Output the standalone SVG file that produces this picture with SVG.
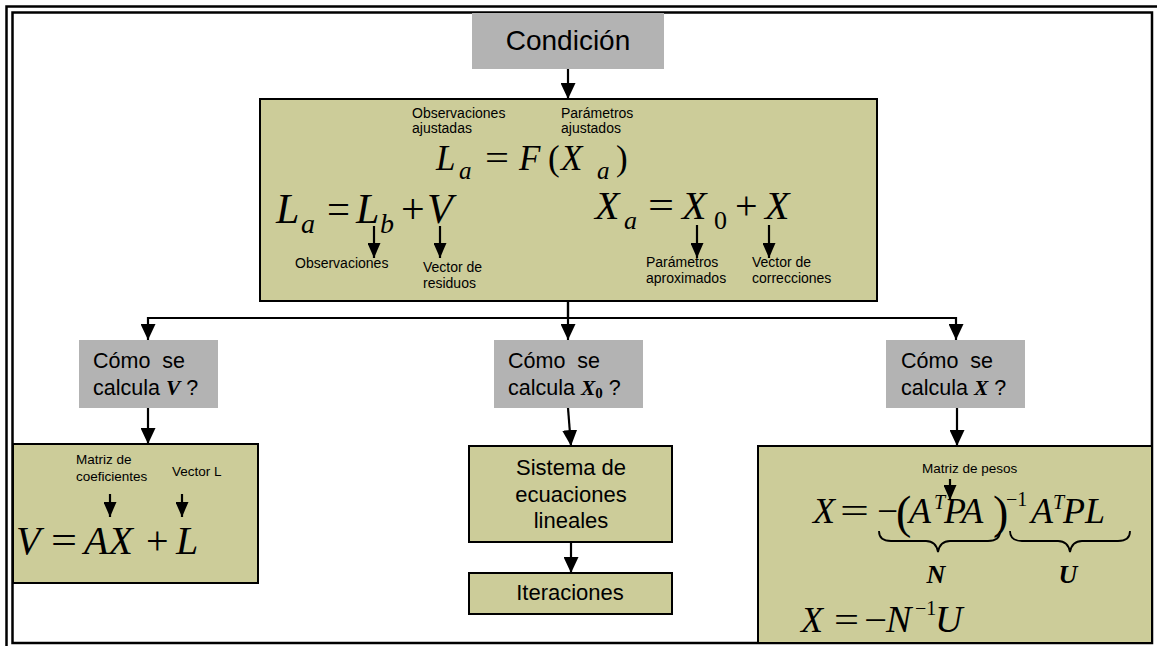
<svg xmlns="http://www.w3.org/2000/svg" width="1157" height="646" viewBox="0 0 1157 646">
<defs>
<marker id="ah" viewBox="0 0 16 15" refX="16" refY="7.5" markerWidth="16" markerHeight="15" markerUnits="userSpaceOnUse" orient="auto">
<path d="M0,0 L16,7.5 L0,15 z" fill="#000"/>
</marker>
<marker id="ahs" viewBox="0 0 15 13" refX="15" refY="6.5" markerWidth="15" markerHeight="13" markerUnits="userSpaceOnUse" orient="auto">
<path d="M0,0 L15,6.5 L0,13 z" fill="#000"/>
</marker>
</defs>
<style>
.gray{fill:#b3b3b3;stroke:none}
.green{fill:#cccc99;stroke:#000;stroke-width:2}
.frame{fill:none;stroke:#000;stroke-width:2.5}
.conn{fill:none;stroke:#000;stroke-width:2.2;marker-end:url(#ah)}
.sarr{fill:none;stroke:#000;stroke-width:2.2;marker-end:url(#ahs)}
.lbl{font-family:"Liberation Sans",Arial,sans-serif;fill:#000}
.m{font-family:"Liberation Serif","Times New Roman",serif;fill:#000}
.mi{font-family:"Liberation Serif","Times New Roman",serif;font-style:italic;fill:#000}
.brace{fill:none;stroke:#000;stroke-width:1.8}
</style>
<rect width="1157" height="646" fill="#fff"/>
<g id="frame">
<rect class="frame" x="6.5" y="6.5" width="1170" height="670"/>
<rect class="frame" x="12.5" y="12.5" width="1139.5" height="630.5"/>
</g>
<g id="connectors">
<path class="conn" d="M568,69 V99"/>
<path class="conn" d="M568,301 V318 H148 V340"/>
<path class="conn" d="M568,301 V340"/>
<path class="conn" d="M568,318 H956 V340"/>
<path class="conn" d="M148,408 V444"/>
<path class="conn" d="M568,408 L571,446"/>
<path class="conn" d="M957,408 V446"/>
<path class="conn" d="M571,542 V573"/>
</g>
<g id="condicion">
<rect class="gray" x="472" y="13" width="192" height="56"/>
<text class="lbl" x="568" y="50" font-size="28" text-anchor="middle">Condición</text>
</g>
<g id="modelo">
<rect class="green" x="260" y="99" width="617" height="202"/>
<text class="lbl" font-size="14"><tspan x="412" y="118">Observaciones</tspan><tspan x="412" y="133">ajustadas</tspan></text>
<text class="lbl" font-size="14"><tspan x="561" y="118">Parámetros</tspan><tspan x="561" y="133">ajustados</tspan></text>
<text class="mi" x="436" y="170" font-size="35">L</text>
<text class="mi" x="459" y="179" font-size="25">a</text>
<text class="m" x="485" y="170" font-size="35" textLength="24" lengthAdjust="spacingAndGlyphs">=</text>
<text class="mi" x="519" y="170" font-size="35">F</text>
<text class="m" x="548" y="170" font-size="35">(</text>
<text class="mi" x="561" y="170" font-size="35">X</text>
<text class="mi" x="597" y="179" font-size="25">a</text>
<text class="m" x="616" y="170" font-size="35">)</text>
<text class="mi" x="276" y="223" font-size="42">L</text>
<text class="mi" x="301" y="233" font-size="28">a</text>
<text class="m" x="327" y="223" font-size="42" textLength="23" lengthAdjust="spacingAndGlyphs">=</text>
<text class="mi" x="356" y="223" font-size="42">L</text>
<text class="mi" x="380" y="233" font-size="28">b</text>
<text class="m" x="401" y="223" font-size="42">+</text>
<text class="mi" x="427" y="223" font-size="42">V</text>
<text class="mi" x="595" y="219" font-size="40">X</text>
<text class="mi" x="624" y="229" font-size="26">a</text>
<text class="m" x="648" y="219" font-size="40" textLength="26" lengthAdjust="spacingAndGlyphs">=</text>
<text class="mi" x="682" y="219" font-size="40">X</text>
<text class="m" x="714" y="229" font-size="26">0</text>
<text class="m" x="735" y="219" font-size="40">+</text>
<text class="mi" x="765" y="219" font-size="40">X</text>
<path class="sarr" d="M374,226 V258"/>
<path class="sarr" d="M440,226 V258"/>
<path class="sarr" d="M697,225 V258"/>
<path class="sarr" d="M769,225 V258"/>
<text class="lbl" x="295" y="268" font-size="14">Observaciones</text>
<text class="lbl" font-size="14"><tspan x="423" y="272">Vector de</tspan><tspan x="423" y="288">residuos</tspan></text>
<text class="lbl" font-size="14"><tspan x="646" y="267">Parámetros</tspan><tspan x="646" y="283">aproximados</tspan></text>
<text class="lbl" font-size="14"><tspan x="752" y="267">Vector de</tspan><tspan x="752" y="283">correcciones</tspan></text>
</g>
<g id="pregunta-v">
<rect class="gray" x="79" y="340" width="139" height="68"/>
<text class="lbl" font-size="21.5"><tspan x="93" y="368">Cómo&#160; se</tspan><tspan x="93" y="395">calcula <tspan class="mi" font-weight="bold">V</tspan> ?</tspan></text>
</g>
<g id="pregunta-x0">
<rect class="gray" x="494" y="340" width="149" height="68"/>
<text class="lbl" font-size="21.5"><tspan x="508" y="368">Cómo&#160; se</tspan><tspan x="508" y="395">calcula <tspan class="mi" font-weight="bold">X</tspan><tspan class="m" font-weight="bold" font-size="15" dy="3">0</tspan><tspan dy="-3"> ?</tspan></tspan></text>
</g>
<g id="pregunta-x">
<rect class="gray" x="886" y="340" width="139" height="68"/>
<text class="lbl" font-size="21.5"><tspan x="901" y="368">Cómo&#160; se</tspan><tspan x="901" y="395">calcula <tspan class="mi" font-weight="bold">X</tspan> ?</tspan></text>
</g>
<g id="calculo-v">
<rect class="green" x="13" y="444" width="245" height="139"/>
<text class="lbl" font-size="13.5"><tspan x="76" y="464">Matriz de</tspan><tspan x="76" y="481">coeficientes</tspan></text>
<text class="lbl" x="172" y="476" font-size="13.5">Vector L</text>
<path class="sarr" d="M110,494 V517"/>
<path class="sarr" d="M182,494 V517"/>
<text class="mi" x="16" y="554" font-size="40">V</text>
<text class="m" x="51" y="554" font-size="40" textLength="26" lengthAdjust="spacingAndGlyphs">=</text>
<text class="mi" x="84" y="554" font-size="40">AX</text>
<text class="m" x="146" y="554" font-size="40">+</text>
<text class="mi" x="176" y="554" font-size="40">L</text>
</g>
<g id="sistema">
<rect class="green" x="469" y="446" width="203" height="96"/>
<text class="lbl" font-size="22" text-anchor="middle"><tspan x="571" y="475">Sistema de</tspan><tspan x="571" y="502">ecuaciones</tspan><tspan x="571" y="528">lineales</tspan></text>
</g>
<g id="iteraciones">
<rect class="green" x="469" y="573" width="203" height="41"/>
<text class="lbl" x="570" y="600" font-size="22" text-anchor="middle">Iteraciones</text>
</g>
<g id="calculo-x">
<rect class="green" x="758" y="446" width="394" height="197"/>
<text class="lbl" x="922" y="473" font-size="13.5">Matriz de pesos</text>
<path class="sarr" d="M950,479 V500"/>
<text class="mi" x="813" y="523" font-size="36">X</text>
<text class="m" x="840" y="523" font-size="36" textLength="29" lengthAdjust="spacingAndGlyphs">=</text>
<text class="m" x="877" y="523" font-size="36" textLength="21" lengthAdjust="spacingAndGlyphs">−</text>
<text class="m" x="896" y="528" font-size="46">(</text>
<text class="mi" x="909" y="523" font-size="36">A</text>
<text class="mi" x="934" y="509" font-size="20">T</text>
<text class="mi" x="944" y="523" font-size="36">PA</text>
<text class="m" x="993" y="528" font-size="46">)</text>
<text class="m" x="1006" y="506" font-size="20">−1</text>
<text class="mi" x="1031" y="523" font-size="36">A</text>
<text class="mi" x="1053" y="509" font-size="20">T</text>
<text class="mi" x="1063" y="523" font-size="36">PL</text>
<path class="brace" d="M879,531 Q879,541 891,541 L926,541 Q936,541 938,552 Q940,541 950,541 L988,541 Q1000,541 1000,531"/>
<path class="brace" d="M1010,531 Q1010,541 1022,541 L1058,541 Q1068,541 1070,552 Q1072,541 1082,541 L1118,541 Q1130,541 1130,531"/>
<text class="mi" x="936" y="583" font-size="26" font-weight="bold" text-anchor="middle">N</text>
<text class="mi" x="1068" y="583" font-size="26" font-weight="bold" text-anchor="middle">U</text>
<text class="mi" x="801" y="632" font-size="36">X</text>
<text class="m" x="834" y="632" font-size="36" textLength="25" lengthAdjust="spacingAndGlyphs">=</text>
<text class="m" x="864" y="632" font-size="36" textLength="23" lengthAdjust="spacingAndGlyphs">−</text>
<text class="mi" x="886" y="632" font-size="38">N</text>
<text class="m" x="915" y="615" font-size="20">−1</text>
<text class="mi" x="935" y="632" font-size="38">U</text>
</g>
</svg>
